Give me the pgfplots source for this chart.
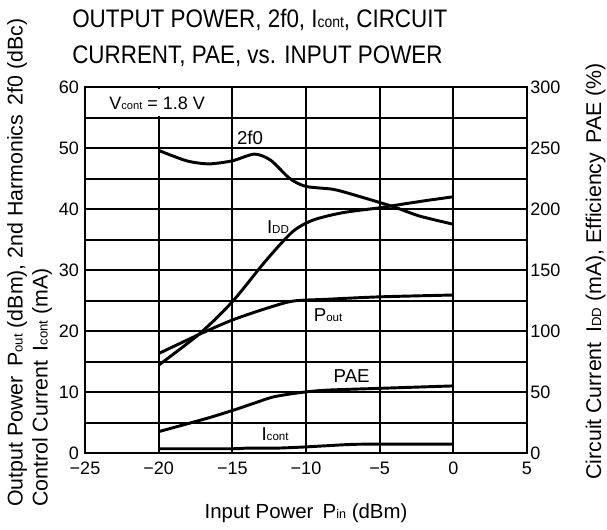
\documentclass[border=0pt]{standalone}
\usepackage{pgfplots}
\pgfplotsset{compat=1.18}
\usepackage{fontspec}
\setmainfont{Liberation Sans}
\usepackage{graphicx}
\newcommand{\sbs}[1]{\scalebox{0.62}{#1}}
\newcommand{\gap}{\hspace{0.45em}}

% 1 px of the reference = 0.75 pt
\pgfplotsset{
  common/.style={
    scale only axis, width=331.5pt, height=274.5pt,
    xmin=-25, xmax=5,
    major tick length=0pt, minor tick length=0pt,
    axis line style={black, line width=2.2pt},
    tick label style={font=\fontsize{13.5}{16}\selectfont},
    /pgf/number format/assume math mode=true,
  },
  curve/.style={black, line width=2.2pt, smooth, tension=0.45},
}

\begin{document}
\begin{tikzpicture}
\begin{axis}[
  common,
  ymin=0, ymax=60,
  xtick={-25,-20,...,5},
  xticklabels={−25,−20,−15,−10,−5,0,5},
  xticklabel style={yshift=-3pt},
  ytick={0,10,...,60},
  minor ytick={5,15,...,55},
  yticklabel style={xshift=-1pt},
  grid=both,
  every axis grid/.style={black, line width=1.5pt},
  major grid style={black, line width=1.5pt},
  minor grid style={black, line width=1.5pt},
  clip=false,
]
% 2nd harmonics 2f0 (dBc)
\addplot[curve] coordinates {
  (-20,49.6) (-18.1,47.9) (-16.6,47.4) (-15.0,47.9) (-13.5,49.0) (-12.4,48.0)
  (-11.1,45.0) (-10.0,43.7) (-8.1,43.2) (-6.3,42.0) (-4.1,40.4) (-2.3,38.85) (0,37.5)};
% output power Pout (dBm)
\addplot[curve] coordinates {
  (-20,16.3) (-17.2,19.5) (-15.0,21.8) (-12.7,23.7) (-10.9,24.9) (-8.6,25.2) (-5.0,25.6) (0,25.9)};
% control current Icont (mA)
\addplot[curve, smooth=false] coordinates {
  (-20,0.7) (-15,0.7) (-14,0.8) (-12,0.8) (-10,1.0) (-7,1.4) (-5,1.45) (0,1.45)};

\fill[white] (axis cs:-24.85,55.2) rectangle (axis cs:-15.08,59.75);
\node[font=\fontsize{13.5}{16}\selectfont] at (axis cs:-20.1,57.3) {V\sbs{cont} = 1.8 V};

\node[font=\fontsize{14}{16}\selectfont] at (axis cs:-13.8,51.6) {2f0};
\node[font=\fontsize{14}{16}\selectfont] at (axis cs:-11.9,37.0) {I\sbs{DD}};
\node[font=\fontsize{14}{16}\selectfont] at (axis cs:-8.5,22.6) {P\sbs{out}};
\node[font=\fontsize{14}{16}\selectfont] at (axis cs:-6.9,12.6) {PAE};
\node[font=\fontsize{14}{16}\selectfont] at (axis cs:-12.1,3.1) {I\sbs{cont}};

% title (set slightly narrow, as in the reference)
\node[anchor=base west, font=\fontsize{19}{22}\selectfont, inner sep=0pt]
  at ([xshift=-9.75pt, yshift=45pt]rel axis cs:0,1)
  {\scalebox{0.885}[1]{OUTPUT POWER, 2f0, I\sbs{cont}, CIRCUIT}};
\node[anchor=base west, font=\fontsize{19}{22}\selectfont, inner sep=0pt]
  at ([xshift=-9.75pt, yshift=18pt]rel axis cs:0,1)
  {\scalebox{0.885}[1]{CURRENT, PAE, vs. INPUT POWER}};

% axis labels
\node[rotate=90, align=left, anchor=west, font=\fontsize{16}{18.75}\selectfont, inner sep=0pt]
  at ([xshift=-41.5pt, yshift=-40.5pt]rel axis cs:0,0)
  {Output Power\gap P\sbs{out} (dBm), 2nd Harmonics\gap 2f0 (dBc)\\Control Current\gap I\sbs{cont} (mA)};
\node[rotate=90, font=\fontsize{16}{18.75}\selectfont, inner sep=0pt]
  at ([xshift=51.5pt, yshift=-1pt]rel axis cs:1,0.5)
  {Circuit Current\gap I\sbs{DD} (mA), Efficiency\gap PAE (\%)};
\node[anchor=base, font=\fontsize{15.3}{18.75}\selectfont, inner sep=0pt]
  at ([yshift=-48.75pt]rel axis cs:0.5,0) {Input Power\gap P\sbs{in} (dBm)};
\end{axis}

\begin{axis}[
  common,
  ymin=0, ymax=300,
  axis x line=none,
  axis y line*=right,
  ytick={0,50,...,300},
  yticklabel style={xshift=-1pt},
]
% circuit current IDD (mA)
\addplot[curve] coordinates {
  (-20,72) (-17.2,98) (-15.0,124) (-12.7,158) (-10.9,181.5) (-9.5,191)
  (-7.5,197) (-5.0,201) (-3.8,203.3) (-1.8,207) (0,210)};
% power added efficiency PAE (%)
\addplot[curve] coordinates {
  (-20,17.5) (-16.7,28.5) (-14.9,35.2) (-13.6,40.5) (-12.2,46) (-10.4,49.5)
  (-8.6,51.5) (-5.0,53) (0,55)};
\end{axis}
% page frame in the reference's proportions (607 x 529 px)
\pgfresetboundingbox
\path[use as bounding box] (-63.75pt,-57pt) rectangle (391.5pt,339.75pt);
\end{tikzpicture}
\end{document}
